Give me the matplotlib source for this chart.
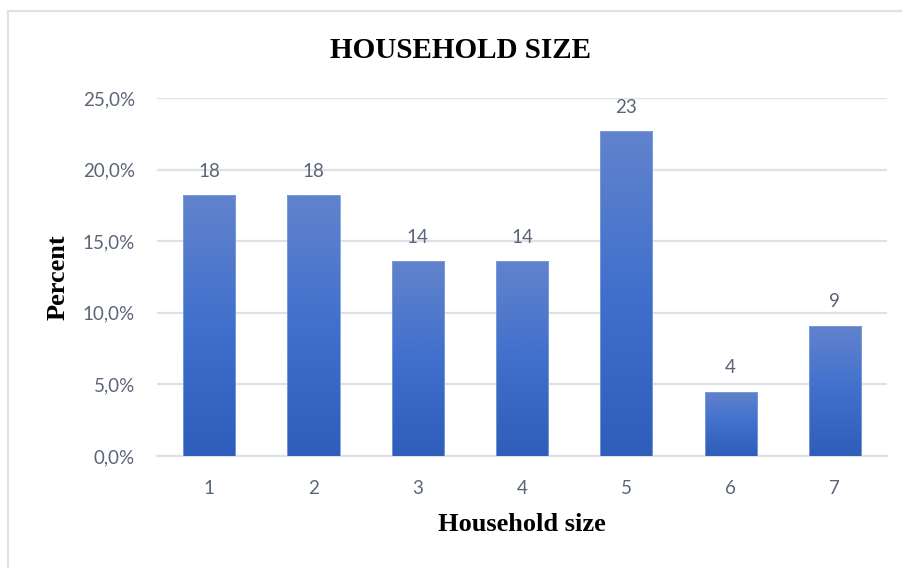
import matplotlib
matplotlib.use("Agg")
import matplotlib.pyplot as plt
import numpy as np
from matplotlib.colors import LinearSegmentedColormap
from matplotlib.patches import Rectangle

categories = ["1", "2", "3", "4", "5", "6", "7"]
percent = [18.2, 18.2, 13.6, 13.6, 22.7, 4.5, 9.1]
bar_labels = ["18", "18", "14", "14", "23", "4", "9"]
yticks = [0, 5, 10, 15, 20, 25]
ytick_labels = ["0,0%", "5,0%", "10,0%", "15,0%", "20,0%", "25,0%"]

tick_color = "#5B6577"
grid_color = "#DDE1E8"

fig = plt.figure(figsize=(9.02, 5.68), dpi=100)
ax = fig.add_axes([157 / 902, 1 - 456 / 568, 730 / 902, 358 / 568])

x = np.arange(len(categories))
bars = ax.bar(x, percent, width=0.5, color="none", zorder=3)

# vertical gradient inside each bar (light top -> dark bottom)
cmap = LinearSegmentedColormap.from_list("grad", ["#2E5EB9", "#4070CC", "#6283CC"])
grad = np.linspace(0, 1, 256).reshape(-1, 1)
for b in bars:
    x0, y0 = b.get_x(), b.get_y()
    w, h = b.get_width(), b.get_height()
    im = ax.imshow(grad, cmap=cmap, origin="lower", aspect="auto",
                   extent=[x0, x0 + w, y0, y0 + h], zorder=3)
    im.set_clip_path(b)
    ax.add_patch(Rectangle((x0, y0), w, h, fill=False, edgecolor="#7F9EDB",
                           linewidth=0.6, zorder=4))

for xi, v, lab in zip(x, percent, bar_labels):
    ax.annotate(lab, (xi, v), xytext=(0, 11), textcoords="offset points",
                ha="center", va="bottom", fontsize=13.5, color=tick_color,
                family="Lato")

ax.set_xlim(-0.5, len(categories) - 0.5)
ax.set_ylim(0, 25)
ax.set_yticks(yticks)
ax.set_yticklabels(ytick_labels)
ax.set_xticks(x)
ax.set_xticklabels(categories)
for lab in ax.get_xticklabels() + ax.get_yticklabels():
    lab.set_family("Lato")
    lab.set_fontsize(13.5)
    lab.set_color(tick_color)
ax.tick_params(length=0)
ax.tick_params(axis="y", pad=16)
ax.tick_params(axis="x", pad=17)

ax.yaxis.grid(True, color=grid_color, linewidth=1.6, zorder=0)
ax.set_axisbelow(True)
for s in ["top", "right", "left"]:
    ax.spines[s].set_visible(False)
ax.spines["bottom"].set_color(grid_color)
ax.spines["bottom"].set_linewidth(1.6)

ax.set_ylabel("Percent", family="Liberation Serif", fontweight="bold",
              fontsize=19, color="black", labelpad=9)
ax.set_xlabel("Household size", family="Liberation Serif", fontweight="bold",
              fontsize=19, color="black", labelpad=12)

fig.text(460 / 902, 1 - 50 / 568, "HOUSEHOLD SIZE", family="Liberation Serif",
         fontweight="bold", fontsize=21, ha="center", va="center")

# outer chart border
fig.patches.append(Rectangle((8 / 902, -0.1), 1.0, 1 - 11 / 568 + 0.1,
                             transform=fig.transFigure, fill=False,
                             edgecolor="#DDE1E8", linewidth=1.5))

fig.savefig("out.png", dpi=100)
